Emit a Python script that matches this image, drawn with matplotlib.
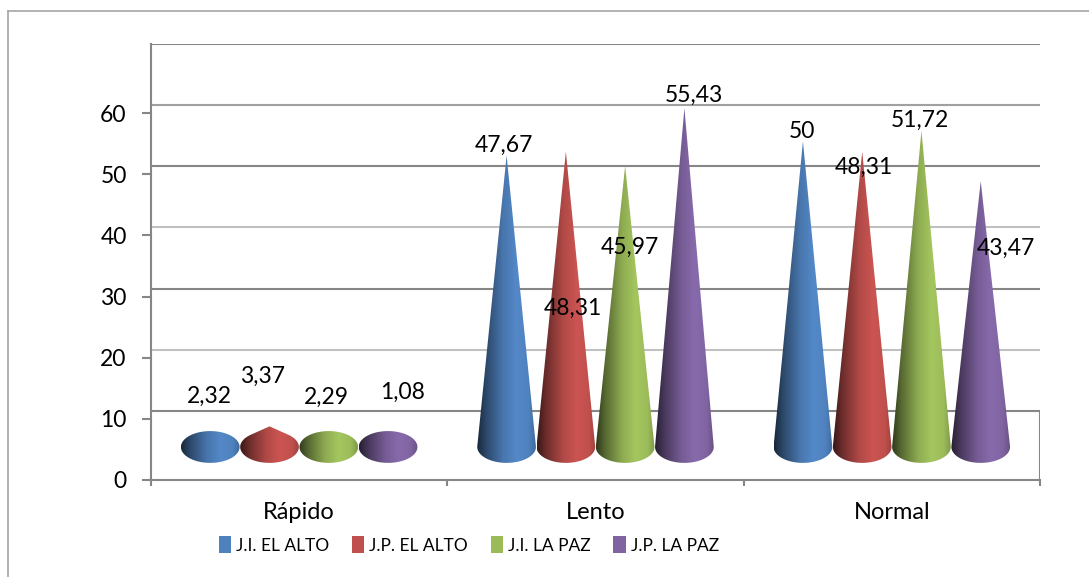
import numpy as np
import matplotlib
matplotlib.use("Agg")
from matplotlib import pyplot as plt
from matplotlib.colors import LinearSegmentedColormap, to_rgb
from matplotlib.patches import Polygon, Patch
from matplotlib.lines import Line2D

categories = ["Rápido", "Lento", "Normal"]
series_names = ["J.I. EL ALTO", "J.P. EL ALTO", "J.I. LA PAZ", "J.P. LA PAZ"]
ji_el_alto = [2.32, 47.67, 50]
jp_el_alto = [3.37, 48.31, 48.31]
ji_la_paz = [2.29, 45.97, 51.72]
jp_la_paz = [1.08, 55.43, 43.47]
y_ticks = [0, 10, 20, 30, 40, 50, 60]
grid_levels = [10, 20, 30, 40, 50, 60, 70]

values = [ji_el_alto, jp_el_alto, ji_la_paz, jp_la_paz]
colors = ["#4F81BD", "#C0504D", "#9BBB59", "#8064A2"]

# where excel dropped the data labels, pixels from each cone tip
label_offsets = [
    [(-1, 36), (-3, 10), (-1, 10)],
    [(-7, 50), (7, -157), (2, -16)],
    [(-2, 36), (5, -81), (-2, 10)],
    [(14, 48), (10, 13), (25, -67)],
]

# fake 3d: cones stand on the floor at mid depth, back wall sits a bit higher
FLOOR = 5.4
GRID_SHIFT = 1.3
SLOT = 0.2
RX = 0.099
RY = 2.6
AXIS_GREY = "#868686"

plt.rcParams['font.family'] = ['Lato', 'DejaVu Sans']


def convex_hull(points):
    """
    Monotone chain hull, used to merge the cone tip with its base ellipse.
    """
    pts = sorted(set(map(tuple, points)))

    def cross(o, a, b):
        return (a[0] - o[0]) * (b[1] - o[1]) - (a[1] - o[1]) * (b[0] - o[0])

    lower, upper = [], []
    for p in pts:
        while len(lower) >= 2 and cross(lower[-2], lower[-1], p) <= 0:
            lower.pop()
        lower.append(p)
    for p in reversed(pts):
        while len(upper) >= 2 and cross(upper[-2], upper[-1], p) <= 0:
            upper.pop()
        upper.append(p)
    return np.array(lower[:-1] + upper[:-1])


def cone_cmap(color):
    r, g, b = to_rgb(color)
    stops = [(0.0, 0.30), (0.15, 0.55), (0.45, 0.92), (0.68, 1.06), (0.88, 1.0), (1.0, 0.82)]
    cols = [(s, tuple(min(1, c * f) for c in (r, g, b))) for s, f in stops]
    return LinearSegmentedColormap.from_list("cone", cols)


def draw_cone(ax, cx, value, color):
    top = FLOOR + value
    t = np.linspace(0, 2 * np.pi, 200)
    ell = np.column_stack([cx + RX * np.cos(t), FLOOR + RY * np.sin(t)])
    pts = convex_hull(np.vstack([ell, [[cx, top]]]))
    poly = Polygon(pts, closed=True, fc='none', ec='none', transform=ax.transData)
    ax.add_patch(poly)
    grad = np.linspace(0, 1, 256).reshape(1, -1)
    im = ax.imshow(grad, cmap=cone_cmap(color), aspect='auto', interpolation='bilinear',
                   extent=[cx - RX, cx + RX, FLOOR - RY, max(top, FLOOR + RY)], zorder=3)
    im.set_clip_path(poly)
    return cx, top


fig = plt.figure(figsize=(10.89, 5.77), dpi=100)
ax = fig.add_axes([151 / 1089, 1 - 480 / 577, 889 / 1089, 436 / 577])

# back wall gridlines
for g in grid_levels:
    shade = "#c0c0c0" if g in (20, 40) else ("#a0a0a0" if g == 60 else AXIS_GREY)
    ax.plot([-0.5, 2.5], [g + GRID_SHIFT] * 2, color=shade, lw=1.5, zorder=1)
ax.plot([2.5, 2.5], [0, 10 + GRID_SHIFT], color=AXIS_GREY, lw=1.5, zorder=1)

for i, (vals, col) in enumerate(zip(values, colors)):
    for c, v in enumerate(vals):
        cx = c + (i - 1.5) * SLOT
        tip = draw_cone(ax, cx, v, col)
        dx, dy = label_offsets[i][c]
        ax.annotate(f"{v:g}".replace(".", ","), xy=tip, xytext=(dx, dy),
                    textcoords='offset pixels', ha='center', va='center',
                    fontsize=16.5, color='black', zorder=6)

ax.set_xlim(-0.5, 2.5)
ax.set_ylim(0, 70 + GRID_SHIFT)

ax.set_yticks(y_ticks)
ax.tick_params(axis='y', length=6.5, width=1.5, color=AXIS_GREY, pad=11, labelsize=16.5)
ax.set_xticks(range(len(categories)))
ax.set_xticklabels(categories)
ax.set_xticks([-0.5, 0.5, 1.5, 2.5], minor=True)
ax.tick_params(axis='x', which='major', length=0, pad=16, labelsize=17)
ax.tick_params(axis='x', which='minor', length=4, width=1.5, color=AXIS_GREY)

for side in ("top", "right"):
    ax.spines[side].set_visible(False)
for side in ("left", "bottom"):
    ax.spines[side].set_color(AXIS_GREY)
    ax.spines[side].set_linewidth(1.5)

# chart area border
fig.add_artist(Line2D([8 / 1089, 1], [1 - 11 / 577] * 2, color="#a6a6a6", lw=1.2))
fig.add_artist(Line2D([8 / 1089] * 2, [0, 1 - 11 / 577], color="#a6a6a6", lw=1.2))

handles = [Patch(facecolor=c, edgecolor='none') for c in colors]
fig.legend(handles, series_names, loc='center', bbox_to_anchor=(469 / 1089, 1 - 545 / 577),
           ncol=4, frameon=False, fontsize=12.5, handlelength=0.7, handleheight=1.1,
           handletextpad=0.3, columnspacing=1.3, borderpad=0)

fig.savefig("out.png", dpi=100)
